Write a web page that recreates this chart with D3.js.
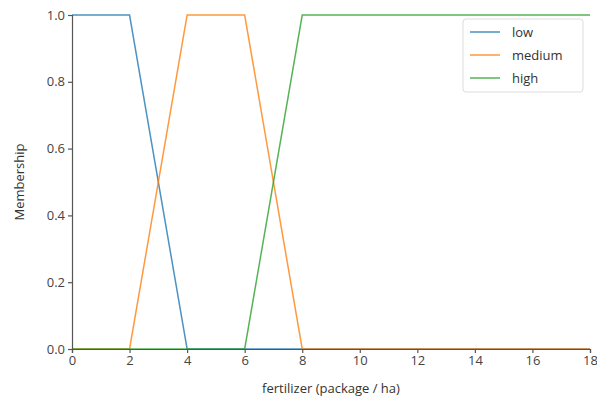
<!DOCTYPE html>
<html><head><meta charset="utf-8">
<script src="https://cdn.jsdelivr.net/npm/d3@7"></script>
<style>body{margin:0;background:#fff}svg{display:block}</style>
</head><body>
<script>
const seriesNames = ["low", "medium", "high"];
const lowX = [0, 2, 4, 18], lowY = [1, 1, 0, 0];
const mediumX = [0, 2, 4, 6, 8, 18], mediumY = [0, 0, 1, 1, 0, 0];
const highX = [0, 6, 8, 18], highY = [0, 0, 1, 1];
const xTicks = [0, 2, 4, 6, 8, 10, 12, 14, 16, 18];
const yTicks = [0.0, 0.2, 0.4, 0.6, 0.8, 1.0];
const colors = ["#1f77b4", "#ff7f0e", "#2ca02c"];

const W = 597, H = 406;
const m = {l: 72, r: 7, t: 15, b: 57};
const svg = d3.select("body").append("svg").attr("width", W).attr("height", H);
const x = d3.scaleLinear().domain([0, 18]).range([m.l, W - m.r]);
const y = d3.scaleLinear().domain([0, 1]).range([H - m.b, m.t]);
const font = "'Open Sans', 'Liberation Sans', sans-serif";

const series = [[lowX, lowY], [mediumX, mediumY], [highX, highY]];
const line = d3.line().x(d => x(d[0])).y(d => y(d[1]));
series.forEach((s, i) => {
  const pts = s[0].map((v, j) => [v, s[1][j]]);
  svg.append("path").datum(pts).attr("d", line).attr("fill", "none")
    .attr("stroke", colors[i]).attr("stroke-width", 1.5).attr("opacity", 0.8);
});

const xa = svg.append("g").attr("transform", `translate(0,${H - m.b})`)
  .call(d3.axisBottom(x).tickValues(xTicks).tickSize(4).tickPadding(3).tickFormat(d3.format("d")));
const ya = svg.append("g").attr("transform", `translate(${m.l},0)`)
  .call(d3.axisLeft(y).tickValues(yTicks).tickSize(4).tickPadding(3).tickFormat(d3.format(".1f")));
[xa, ya].forEach(a => {
  a.selectAll("path,line").attr("stroke", "#555").attr("stroke-width", 1.2);
  a.selectAll("text").attr("font-family", font).attr("font-size", 13).attr("fill", "#444");
});

svg.append("text").attr("x", (m.l + W - m.r) / 2).attr("y", 393).attr("text-anchor", "middle")
  .attr("font-family", font).attr("font-size", 13).attr("fill", "#333").text("fertilizer (package / ha)");
svg.append("text").attr("transform", `translate(24,${(m.t + H - m.b) / 2}) rotate(-90)`)
  .attr("text-anchor", "middle").attr("font-family", font).attr("font-size", 13).attr("fill", "#333").text("Membership");

const lg = svg.append("g");
lg.append("rect").attr("x", 463).attr("y", 19).attr("width", 120).attr("height", 73).attr("rx", 3)
  .attr("fill", "#fff").attr("fill-opacity", 0.8).attr("stroke", "#ddd");
seriesNames.forEach((n, i) => {
  const yy = 32 + i * 23;
  lg.append("line").attr("x1", 470).attr("x2", 500).attr("y1", yy).attr("y2", yy)
    .attr("stroke", colors[i]).attr("stroke-width", 1.5).attr("opacity", 0.8);
  lg.append("text").attr("x", 512).attr("y", yy + 5).attr("font-family", font).attr("font-size", 13)
    .attr("fill", "#333").text(n);
});
</script>
</body></html>
